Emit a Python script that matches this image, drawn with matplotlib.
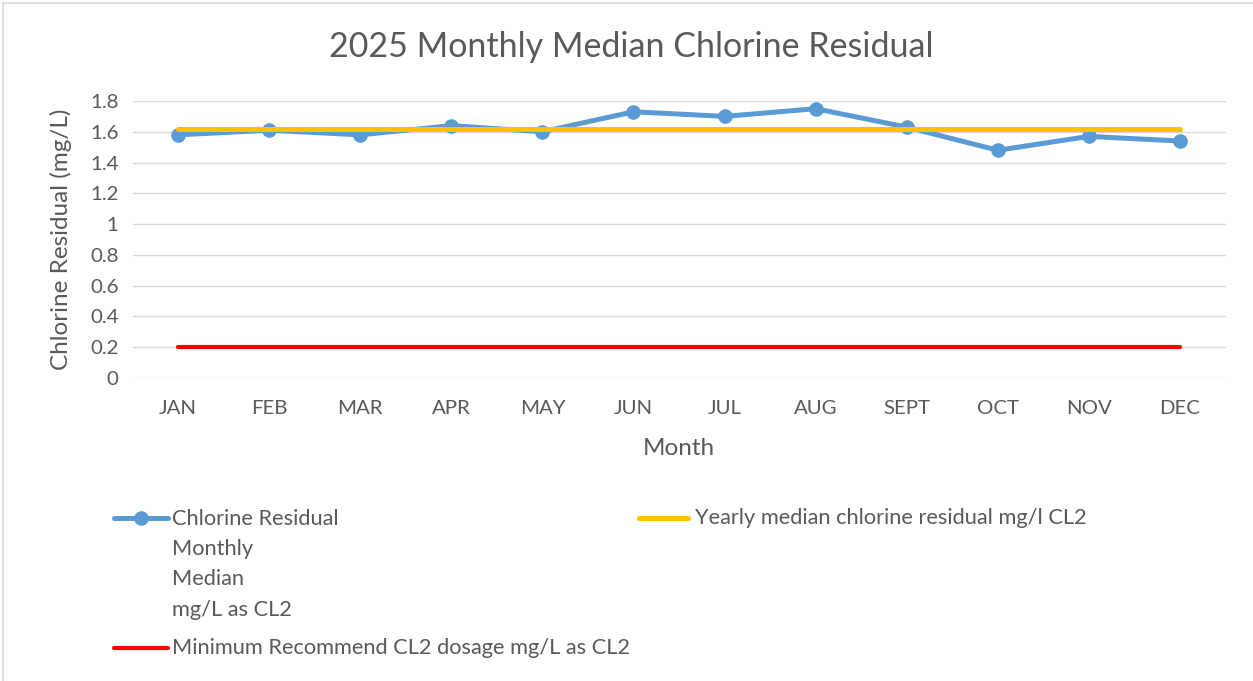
import matplotlib
matplotlib.use("Agg")
import matplotlib.pyplot as plt
from matplotlib.lines import Line2D
from matplotlib.patches import Rectangle
from matplotlib.ticker import FuncFormatter

months = ["JAN", "FEB", "MAR", "APR", "MAY", "JUN", "JUL", "AUG", "SEPT", "OCT", "NOV", "DEC"]
monthly_median = [1.58, 1.61, 1.58, 1.64, 1.60, 1.73, 1.70, 1.75, 1.63, 1.48, 1.57, 1.54]
yearly_median = [1.62] * 12
minimum_recommended = [0.2] * 12

label_blue = "Chlorine Residual\nMonthly\nMedian\nmg/L as CL2"
label_yellow = "Yearly median chlorine residual mg/l CL2"
label_red = "Minimum Recommend CL2 dosage mg/L as CL2"

BLUE = "#5B9BD5"
YELLOW = "#FFC000"
RED = "#FF0000"
TEXT = "#595959"
GRID = "#D9D9D9"

plt.rcParams["font.family"] = ["Lato", "DejaVu Sans"]

W, H = 1253, 681
fig = plt.figure(figsize=(W / 100, H / 100), dpi=100)
fig.patch.set_facecolor("white")

# outer chart border
fig.add_artist(Rectangle((3 / W, -0.01), (W + 10) / W, 1 - 3 / H + 0.01, transform=fig.transFigure,
                         fill=False, edgecolor=GRID, linewidth=1.2))

def fx(px):
    return px / W

def fy(py):
    return 1 - py / H

ax = fig.add_axes([fx(132.5), fy(378), fx(1225.5) - fx(132.5), fy(101) - fy(378)])
x = list(range(len(months)))
ax.plot(x, minimum_recommended, color=RED, lw=3.0, solid_capstyle="round", zorder=3)
ax.plot(x, monthly_median, color=BLUE, lw=3.6, marker="o", ms=9.5, solid_capstyle="round", zorder=4)
ax.plot(x, yearly_median, color=YELLOW, lw=3.6, solid_capstyle="round", zorder=5)

ax.set_xlim(-0.5, len(months) - 0.5)
ax.set_ylim(0, 1.8)
ax.set_yticks([i * 0.2 for i in range(10)])
ax.yaxis.set_major_formatter(FuncFormatter(lambda v, p: f"{v:g}"))
ax.set_xticks(x)
ax.set_xticklabels(months)
ax.grid(axis="y", color=GRID, lw=1.0)
ax.set_axisbelow(True)
for s in ax.spines.values():
    s.set_visible(False)
ax.tick_params(axis="both", length=0, labelsize=14.7, labelcolor=TEXT)
ax.tick_params(axis="x", pad=16)
ax.tick_params(axis="y", pad=10)
ax.set_xlabel("Month", fontsize=17.5, color=TEXT, labelpad=15)
ax.set_ylabel("Chlorine Residual (mg/L)", fontsize=17.5, color=TEXT, labelpad=13)

fig.text(fx(631), fy(47), "2025 Monthly Median Chlorine Residual", ha="center", va="center",
         fontsize=24.5, color=TEXT)

# legend (manual)
def key(x0, x1, y, color, marker=False, lw=3.6):
    fig.add_artist(Line2D([fx(x0), fx(x1)], [fy(y), fy(y)], transform=fig.transFigure,
                          color=color, lw=lw, solid_capstyle="round"))
    if marker:
        fig.add_artist(Line2D([fx((x0 + x1) / 2)], [fy(y)], transform=fig.transFigure,
                              color=color, marker="o", ms=9.5, lw=0))

LFS = 15.7
key(114, 168, 518, BLUE, marker=True)
fig.text(fx(172), fy(509), label_blue, ha="left", va="top", fontsize=LFS, color=TEXT,
         linespacing=1.64)
key(639, 688, 518, YELLOW)
fig.text(fx(695), fy(518), label_yellow, ha="left", va="center", fontsize=LFS, color=TEXT)
key(114, 168, 648, RED, lw=3.0)
fig.text(fx(172), fy(648), label_red, ha="left", va="center", fontsize=LFS, color=TEXT)

fig.savefig("out.png", dpi=100, facecolor="white")
